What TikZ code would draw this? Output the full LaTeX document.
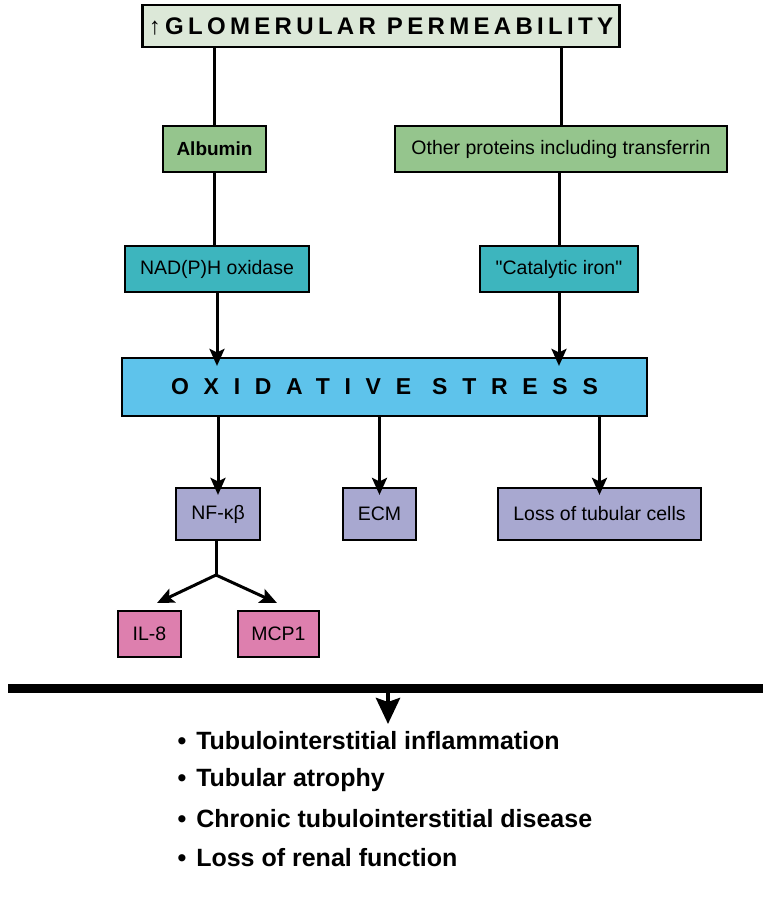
\documentclass[tikz,border=0pt]{standalone}
\usepackage{fontspec}
\setmainfont{Liberation Sans}
\newfontfamily\titlefont[LetterSpace=18]{Liberation Sans}
\newfontfamily\stressfont[LetterSpace=64]{Liberation Sans}
\usetikzlibrary{arrows.meta}

\definecolor{permfill}{HTML}{DCE8D8}
\definecolor{protfill}{HTML}{95C58D}
\definecolor{enzfill}{HTML}{3DB5BE}
\definecolor{stressfill}{HTML}{5EC3EB}
\definecolor{effectfill}{HTML}{A8A8D0}
\definecolor{cytofill}{HTML}{DD7FAE}

\begin{document}
\begin{tikzpicture}[x=1pt, y=-1pt, >={Stealth[length=17pt, width=15pt, inset=3.5pt]},
    box/.style={draw, line width=2.2pt, inner sep=0pt, align=center, font=\fontsize{19.5}{22}\selectfont},
    conn/.style={line width=3pt},
    outcome/.style={anchor=west, font=\fontsize{25}{28}\selectfont\bfseries}]
    \useasboundingbox (0,0) rectangle (763,898);

    % Nodes
    \node (perm) [box, fill=permfill, minimum width=477pt, minimum height=42pt] at (381,26) {\titlefont\fontsize{24}{26}\bfseries ↑GLOMERULAR PERMEABILITY};
    \node (albumin) [box, fill=protfill, minimum width=103pt, minimum height=46pt, font=\fontsize{19}{22}\selectfont\bfseries] at (214.5,149) {Albumin};
    \node (others) [box, fill=protfill, minimum width=332pt, minimum height=46pt] at (561,149) {Other proteins including transferrin};
    \node (nadph) [box, fill=enzfill, minimum width=184pt, minimum height=46pt] at (217,269) {NAD(P)H oxidase};
    \node (catiron) [box, fill=enzfill, minimum width=158pt, minimum height=46pt] at (559,269) {\addfontfeature{Ligatures=TeXOff}"Catalytic iron"};
    \node (oxstress) [box, fill=stressfill, minimum width=525pt, minimum height=58pt] at (384.5,387) {\stressfont\fontsize{23}{25}\bfseries OXIDATIVE STRESS};
    \node (nfkb) [box, fill=effectfill, minimum width=84pt, minimum height=52pt] at (218,514) {NF-κβ};
    \node (ecm) [box, fill=effectfill, minimum width=73pt, minimum height=52pt] at (379.5,514) {ECM};
    \node (tubloss) [box, fill=effectfill, minimum width=203pt, minimum height=52pt] at (599.5,514) {Loss of tubular cells};
    \node (il) [box, fill=cytofill, minimum width=63pt, minimum height=46pt] at (149.5,634) {IL-8};
    \node (mcp) [box, fill=cytofill, minimum width=81pt, minimum height=46pt] at (278.5,634) {MCP1};

    % Lines from the top box
    \draw[conn] (perm.south -| albumin) -- (albumin.north);
    \draw[conn] (perm.south -| others) -- (others.north);
    \draw[conn] (albumin) -- (nadph.north -| albumin);
    \draw[conn] (others.south -| catiron) -- (catiron.north);

    % Arrows into and out of oxidative stress
    \draw[conn, ->] (nadph.south) -- ([yshift=-9pt]oxstress.north -| nadph);
    \draw[conn, ->] (catiron.south) -- ([yshift=-9pt]oxstress.north -| catiron);
    \draw[conn, ->] (oxstress.south -| nfkb) -- ([yshift=-8pt]nfkb.north);
    \draw[conn, ->] (oxstress.south -| ecm) -- ([yshift=-8pt]ecm.north);
    \draw[conn, ->] (oxstress.south -| tubloss) -- ([yshift=-8pt]tubloss.north);

    % Fork below NF-kb
    \coordinate (fork) at (216,575);
    \coordinate (iltip) at (157,603);
    \coordinate (mcptip) at (277,603);
    \draw[conn] (nfkb.south -| fork) -- (fork);
    \draw[conn, ->] (fork) -- (iltip);
    \draw[conn, ->] (fork) -- (mcptip);

    % Bar and outcomes
    \coordinate (barL) at (8,688);
    \coordinate (barR) at (763,688);
    \coordinate (barM) at (388,688);
    \coordinate (outtop) at (388,724);
    \draw[line width=9pt] (barL) -- (barR);
    \draw[line width=4.5pt, -{Stealth[length=26pt, width=24pt, inset=4pt]}] (barM) -- (outtop);

    \node (out1) [outcome] at (174,741) {\textbullet\hspace{10pt}Tubulointerstitial inflammation};
    \node (out2) [outcome] at (174,780) {\textbullet\hspace{10pt}Tubular atrophy};
    \node (out3) [outcome] at (174,819) {\textbullet\hspace{10pt}Chronic tubulointerstitial disease};
    \node (out4) [outcome] at (174,858) {\textbullet\hspace{10pt}Loss of renal function};
\end{tikzpicture}
\end{document}
